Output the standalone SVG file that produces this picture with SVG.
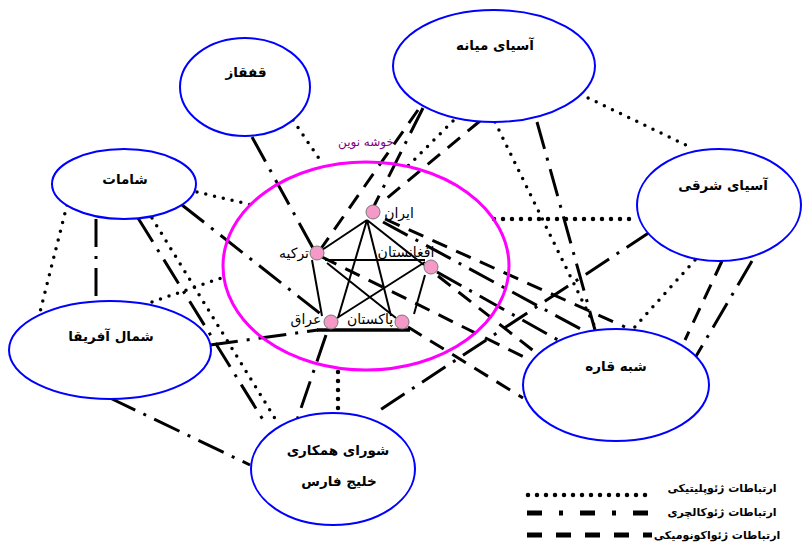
<svg xmlns="http://www.w3.org/2000/svg" width="802" height="544" viewBox="0 0 802 544">
<style>
.dot{fill:none;stroke:#000;stroke-width:3.5;stroke-linecap:round;stroke-dasharray:0 9}
.dotb{fill:none;stroke:#000;stroke-width:4.5;stroke-linecap:round;stroke-dasharray:0 9}
.dd{fill:none;stroke:#000;stroke-width:3;stroke-dasharray:28 9 3 9}
.ds{fill:none;stroke:#000;stroke-width:3;stroke-dasharray:16 10}
.solid{fill:none;stroke:#000;stroke-width:2}
.reg{fill:#fff;stroke:#0000ff;stroke-width:2}
.lbl{font-family:"DejaVu Sans",sans-serif;font-weight:bold;font-size:13.5px;fill:#000;text-anchor:middle}
.nlbl{font-family:"DejaVu Sans",sans-serif;font-size:14px;fill:#000;text-anchor:middle}
.pn{fill:#f59ac8;stroke:#777;stroke-width:1}
.leg{font-family:"DejaVu Sans",sans-serif;font-weight:bold;font-size:11px;fill:#000;text-anchor:middle}
</style>
<rect width="802" height="544" fill="#fff"/>
<g id="connectors">
<path class="dot" d="M293,120 L322,163"/>
<path class="dot" d="M197,192 L252,205"/>
<path class="dot" d="M67,205 L40,312"/>
<path class="dot" d="M152,218 L279,425"/>
<path class="dot" d="M152,302 L224,277"/>
<path class="dot" d="M495,122 L597,331"/>
<path class="dot" d="M580,94 L692,148"/>
<path class="dotb" d="M494,219 L638,219"/>
<path class="dot" d="M695,260 L633,329"/>
<path class="dot" d="M453,121 L408,166"/>
<path class="dotb" d="M338,372 L338,410"/>
<path class="dd" d="M252,137 L314,250"/>
<path class="dd" d="M182,205 L322,315"/>
<path class="dd" d="M96,219 L96,301"/>
<path class="dd" d="M138,218 L265,423"/>
<path class="dd" d="M210,345 L318,330"/>
<path class="dd" d="M110,398 L250,465"/>
<path class="dd" d="M326,335 L297,420"/>
<path class="dd" d="M537,122 L595,330"/>
<path class="dd" d="M650,232 L380,410"/>
<path class="dd" d="M752,261 L695,358"/>
<path class="dd" d="M423,108 L372,210"/>
<path class="dd" d="M383,222 L588,333"/>
<path class="dd" d="M437,272 L558,340"/>
<path class="ds" d="M418,110 L320,250"/>
<path class="ds" d="M480,121 L380,204"/>
<path class="ds" d="M385,219 L625,327"/>
<path class="ds" d="M322,257 L530,360"/>
<path class="ds" d="M408,327 L523,398"/>
<path class="ds" d="M438,276 L535,352"/>
<path class="ds" d="M722,261 L685,340"/>
<path class="solid" d="M367,220 L322,250 M367,220 L424,265 M367,220 L338,318 M367,220 L391,316 M325,260 L425,260 M327,263 L396,318 M425,262 L337,318 M312,260 L322,316 M425,275 L414,314"/>
<path fill="none" stroke="#000" stroke-width="3.5" d="M317,330 L410,330"/>
</g>
<g id="cluster">
<ellipse cx="366" cy="266" rx="143" ry="104" fill="none" stroke="#ff00ff" stroke-width="3"/>
<text x="366" y="146" font-family="DejaVu Sans, sans-serif" font-size="12" fill="#800080" text-anchor="middle">خوشه نوین</text>
</g>
<g id="qafqaz"><ellipse class="reg" cx="245" cy="87" rx="65" ry="49"/><text class="lbl" x="246" y="77">قفقاز</text></g>
<g id="shamat"><ellipse class="reg" cx="124" cy="184" rx="72" ry="35"/><text class="lbl" x="125" y="184">شامات</text></g>
<g id="asia-miane"><ellipse class="reg" cx="494" cy="66" rx="101" ry="56"/><text class="lbl" x="495" y="50">آسیای میانه</text></g>
<g id="asia-sharqi"><ellipse class="reg" cx="719" cy="205" rx="82" ry="56"/><text class="lbl" x="723" y="190">آسیای شرقی</text></g>
<g id="shomal-afriqa"><ellipse class="reg" cx="110" cy="350" rx="101" ry="49"/><text class="lbl" x="111" y="341">شمال آفریقا</text></g>
<g id="shora"><ellipse class="reg" cx="333" cy="469" rx="82" ry="56"/><text class="lbl" x="338" y="455">شورای همکاری</text><text class="lbl" x="339" y="486">خلیج فارس</text></g>
<g id="shebh-qare"><ellipse class="reg" cx="616" cy="385" rx="93" ry="56"/><text class="lbl" x="616" y="371">شبه قاره</text></g>
<g id="iran"><circle class="pn" cx="373" cy="212" r="7"/><text class="nlbl" x="399" y="218">ایران</text></g>
<g id="turkey"><text class="nlbl" x="294" y="258">ترکیه</text><circle class="pn" cx="317" cy="253" r="7"/></g>
<g id="afghanistan"><text class="nlbl" x="406" y="257" font-size="11">افغانستان</text><circle class="pn" cx="431" cy="267" r="7"/></g>
<g id="iraq"><text class="nlbl" x="306" y="324">عراق</text><circle class="pn" cx="331" cy="322" r="7"/></g>
<g id="pakistan"><text class="nlbl" x="370" y="324">پاکستان</text><circle class="pn" cx="402" cy="322" r="7"/></g>
<g id="legend">
<text class="leg" x="722" y="492">ارتباطات ژئوپلیتیکی</text>
<path fill="none" stroke="#000" stroke-width="4.5" stroke-linecap="round" stroke-dasharray="0 9" d="M528,495 L653,495"/>
<text class="leg" x="722" y="516">ارتباطات ژئوکالچری</text>
<path fill="none" stroke="#000" stroke-width="5" stroke-dasharray="15 17 4 17" d="M527,513 L650,513"/>
<text class="leg" x="717" y="539">ارتباطات ژئواکونومیکی</text>
<path fill="none" stroke="#000" stroke-width="5" stroke-dasharray="15 14" d="M527,535 L652,535"/>
</g>
</svg>
